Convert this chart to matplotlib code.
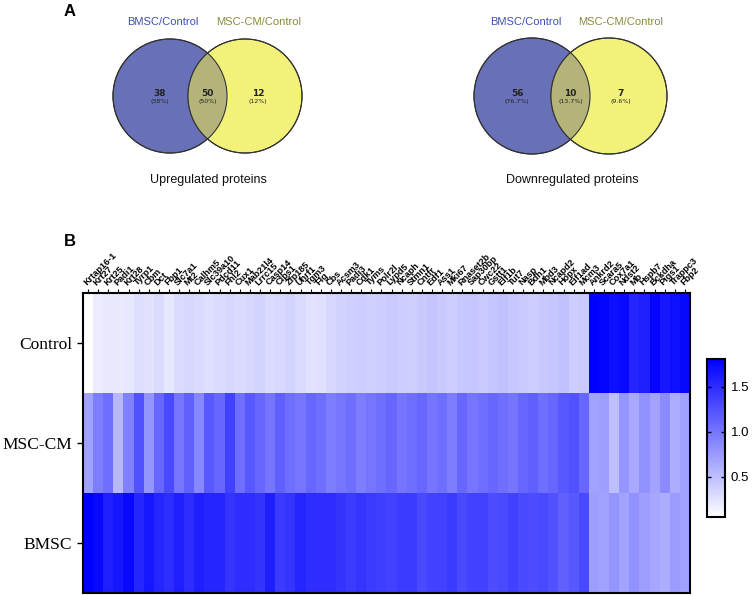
import matplotlib
matplotlib.use("Agg")
import matplotlib.pyplot as plt
import numpy as np
from matplotlib.colors import LinearSegmentedColormap
from matplotlib.patches import Circle

# ---------------- data ----------------
venn_sets = ["BMSC/Control", "MSC-CM/Control"]
up_counts = [38, 50, 12]
up_pct = ["38%", "50%", "12%"]
down_counts = [56, 10, 7]
down_pct = ["76.7%", "13.7%", "9.6%"]
venn_titles = ["Upregulated proteins", "Downregulated proteins"]

groups = ["Control", "MSC-CM", "BMSC"]
genes = ["Krtap16-1", "Krt27", "Krt25", "Padi1", "Krt28", "Tyrp1", "Cbm", "Dct", "Fbp1", "Slc7a1",
         "Mt2", "Calhm5", "Slc39a10", "Pdcd11", "Fhl2", "Cux1", "Mab21l4", "Lrrc15", "Casp14", "Clps1",
         "Zfp185", "Uhrf1", "Tgm3", "Flg", "Cbs", "Acsm3", "Padi3", "Cdk1", "Tyms", "Polr2l",
         "Lypd5", "Ncaph", "Stmn1", "Cntfr", "Edf1", "Ass1", "Mki67", "Rnaset2b", "Sap30bp", "Cwc22",
         "Gstt1", "Elf1b", "Tut7", "Nasp", "Bdh1", "Mbd3", "Ncapd2", "Hopx", "Eif1ad", "Mcm3",
         "Ankrd2", "Scara5", "Cox7a1", "Ndst2", "Mb", "Hspb7", "Bckdha", "Pigs1", "Trappc3", "Fbp2"]

control = [0.05, 0.18, 0.20, 0.20, 0.22, 0.28, 0.25, 0.30, 0.22, 0.30,
           0.32, 0.30, 0.28, 0.30, 0.33, 0.30, 0.32, 0.35, 0.30, 0.33,
           0.35, 0.30, 0.25, 0.26, 0.33, 0.36, 0.38, 0.40, 0.37, 0.40,
           0.42, 0.40, 0.38, 0.42, 0.45, 0.42, 0.40, 0.44, 0.45, 0.42,
           0.45, 0.48, 0.44, 0.42, 0.40, 0.43, 0.45, 0.48, 0.40, 0.42,
           1.80, 1.78, 1.72, 1.75, 1.55, 1.60, 1.78, 1.65, 1.70, 1.75]
msc_cm = [0.70, 0.95, 1.05, 0.55, 0.92, 1.25, 0.78, 1.10, 1.30, 1.00,
          1.15, 0.88, 1.20, 1.10, 1.35, 1.05, 1.20, 1.10, 1.00, 1.15,
          1.05, 1.00, 1.10, 1.05, 0.95, 1.00, 1.05, 0.95, 1.00, 1.05,
          1.10, 1.00, 1.05, 1.10, 1.00, 1.05, 0.95, 1.10, 1.00, 1.05,
          1.10, 1.05, 1.00, 1.10, 1.15, 1.05, 1.10, 1.20, 1.25, 1.10,
          0.70, 0.72, 0.50, 0.78, 0.65, 0.80, 0.68, 0.85, 0.62, 0.70]
bmsc = [1.85, 1.75, 1.60, 1.65, 1.75, 1.55, 1.65, 1.55, 1.50, 1.60,
        1.50, 1.60, 1.55, 1.55, 1.45, 1.50, 1.50, 1.45, 1.60, 1.40,
        1.45, 1.55, 1.50, 1.50, 1.50, 1.45, 1.40, 1.45, 1.40, 1.38,
        1.35, 1.40, 1.40, 1.30, 1.35, 1.35, 1.40, 1.30, 1.35, 1.35,
        1.28, 1.30, 1.35, 1.30, 1.28, 1.30, 1.25, 1.15, 1.20, 1.30,
        0.72, 0.70, 0.78, 0.68, 0.80, 0.72, 0.66, 0.62, 0.74, 0.70]

W, H = 754, 596
fig = plt.figure(figsize=(W / 100, H / 100), dpi=100)

# ---------------- Panel A (Venn) in pixel coordinates ----------------
va = fig.add_axes([0, 0, 1, 1])
va.set_xlim(0, W)
va.set_ylim(H, 0)
va.axis("off")

c_left = "#6870B8"
c_right = "#F2F27A"
c_mid = "#B3B37A"
col_lab_left = "#3F4FB0"
col_lab_right = "#8A8A3C"

def venn(cx1, cx2, cy, r, counts, pcts, title, lx1, lx2, tx, off_l, off_r):
    p1 = Circle((cx1, cy), r, fc=c_left, ec="#333333", lw=0.8, zorder=2)
    p2 = Circle((cx2, cy), r, fc=c_right, ec="#333333", lw=0.8, zorder=2)
    va.add_patch(p1)
    va.add_patch(p2)
    p3 = Circle((cx2, cy), r, fc=c_mid, ec="none", zorder=3)
    va.add_patch(p3)
    p3.set_clip_path(p1)
    va.add_patch(Circle((cx1, cy), r, fc="none", ec="#333333", lw=0.8, zorder=4))
    va.add_patch(Circle((cx2, cy), r, fc="none", ec="#333333", lw=0.8, zorder=4))
    xs = [cx1 - off_l, (cx1 + cx2) / 2, cx2 + off_r]
    for x, n, p in zip(xs, counts, pcts):
        va.text(x, cy - 2, str(n), ha="center", va="center", fontsize=6.5,
                fontweight="bold", color="#222222", zorder=5)
        va.text(x, cy + 5, "(" + p + ")", ha="center", va="center", fontsize=4.5,
                color="#222222", zorder=5)
    va.text(lx1, 22, venn_sets[0], ha="center", va="center", fontsize=8,
            color=col_lab_left, family="Liberation Sans")
    va.text(lx2, 22, venn_sets[1], ha="center", va="center", fontsize=8,
            color=col_lab_right, family="Liberation Sans")
    va.text(tx, 180, title, ha="center", va="center", fontsize=9,
            color="#111111", family="Liberation Sans")

venn(170, 245, 96, 57, up_counts, up_pct, venn_titles[0], 163, 259, 208, 10, 13)
venn(532, 609, 96, 58, down_counts, down_pct, venn_titles[1], 526, 621, 572, 15, 12)

va.text(70, 11, "A", ha="center", va="center", fontsize=12, fontweight="bold",
        family="Liberation Sans")
va.text(70, 242, "B", ha="center", va="center", fontsize=12, fontweight="bold",
        family="Liberation Sans")

# ---------------- Panel B (heatmap) ----------------
cmap = LinearSegmentedColormap.from_list("wb", ["#FFFFFF", "#0000FF"])
data = np.array([control, msc_cm, bmsc])

hx0, hx1, hy0, hy1 = 83, 690, 293, 593
ax = fig.add_axes([hx0 / W, 1 - hy1 / H, (hx1 - hx0) / W, (hy1 - hy0) / H])
im = ax.imshow(data, cmap=cmap, vmin=0.05, vmax=1.81, aspect="auto",
               interpolation="nearest")
ax.xaxis.tick_top()
ax.set_xticks(np.arange(len(genes)))
ax.set_xticklabels(genes, rotation=45, ha="left", va="bottom",
                   rotation_mode="anchor", fontsize=6.6, fontweight="bold",
                   family="Liberation Sans")
ax.set_yticks(np.arange(len(groups)))
ax.set_yticklabels(groups, fontsize=12.5, family="Liberation Serif")
ax.tick_params(axis="x", length=3, width=0.8, pad=1)
ax.tick_params(axis="y", length=4, width=1.0, pad=4)
for s in ax.spines.values():
    s.set_linewidth(1.5)

cax = fig.add_axes([707 / W, 1 - 517 / H, 18 / W, 158 / H])
cb = fig.colorbar(im, cax=cax, ticks=[0.5, 1.0, 1.5])
cb.ax.tick_params(direction="in", length=3, width=1.0, left=True, right=True,
                  labelsize=9.5, pad=4)
for lab in cb.ax.get_yticklabels():
    lab.set_family("Liberation Sans")
cb.outline.set_linewidth(1.5)

fig.savefig("out.png", dpi=100)
